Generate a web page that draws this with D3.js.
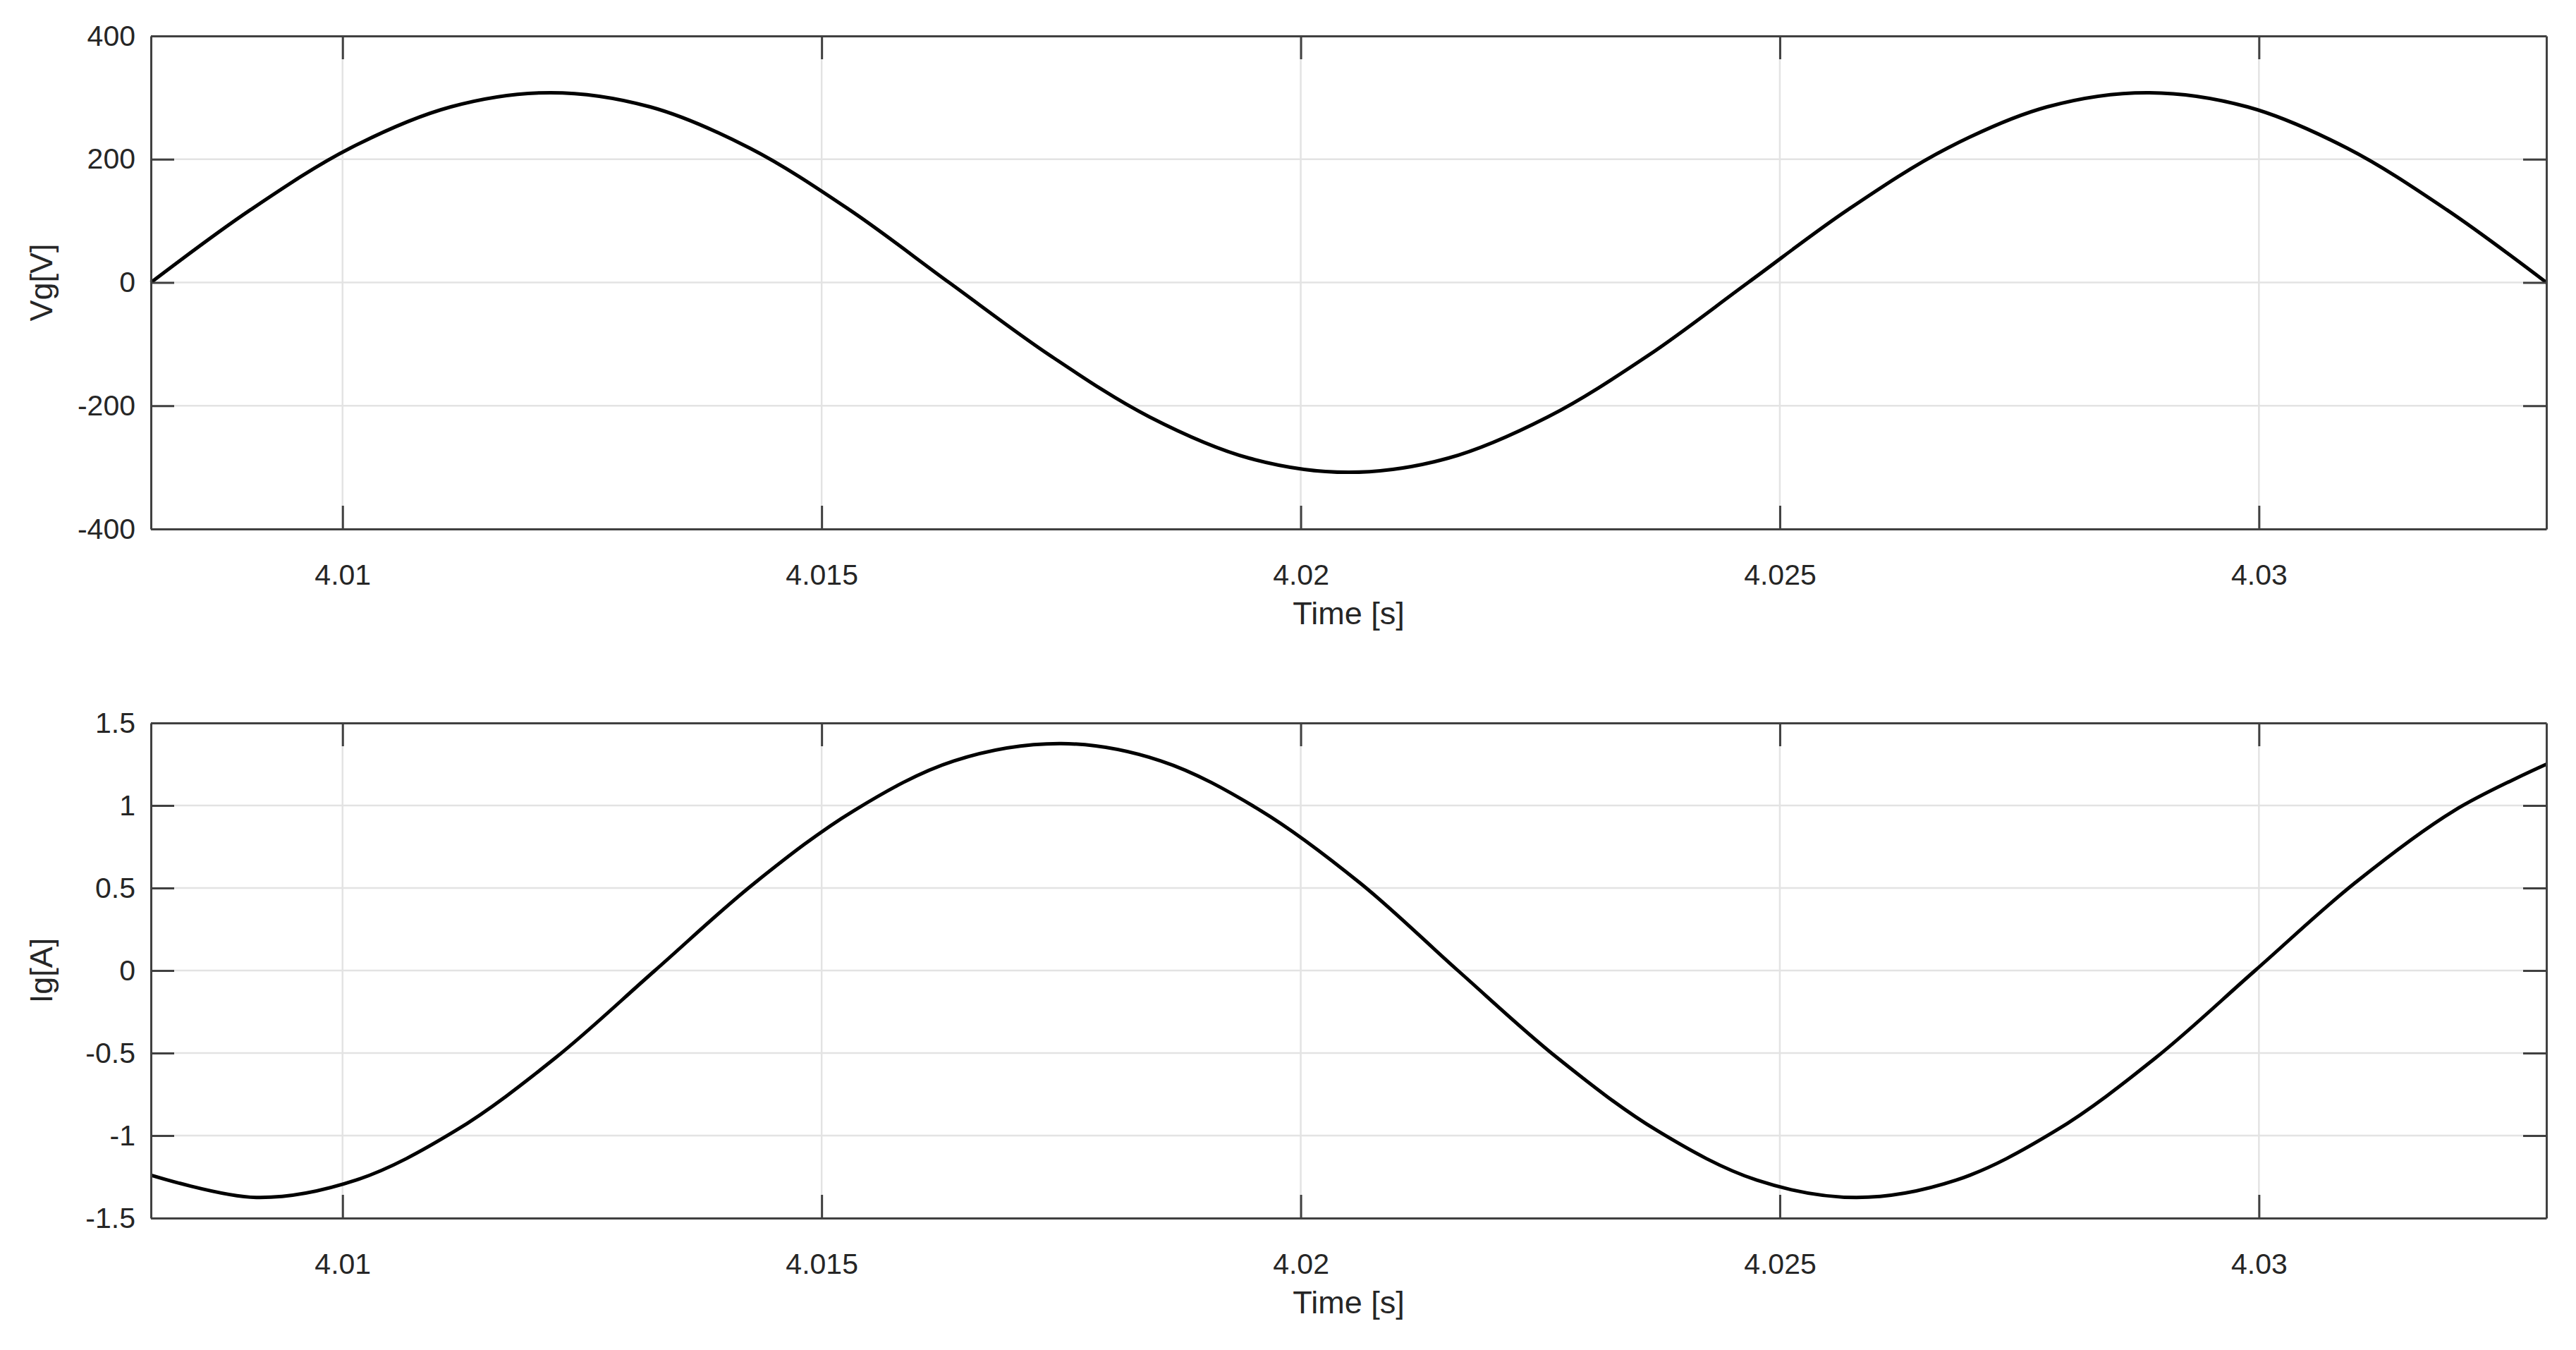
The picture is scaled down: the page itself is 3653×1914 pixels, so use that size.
<!DOCTYPE html>
<html>
<head>
<meta charset="utf-8">
<script src="https://cdnjs.cloudflare.com/ajax/libs/d3/7.8.5/d3.min.js"></script>
<style>
body { margin: 0; background: #fff; }
text { font-family: "Liberation Sans", Arial, sans-serif; fill: #262626; }
</style>
</head>
<body>
<svg id="chart" width="3653" height="1914"></svg>
<script>
// values
var vg_time = [4.008, 4.00904, 4.01008, 4.01113, 4.01217, 4.01321, 4.01425, 4.01529, 4.01633, 4.01738, 4.01842, 4.01946, 4.0205,
	4.02154, 4.02258, 4.02363, 4.02467, 4.02571, 4.02675, 4.02779, 4.02883, 4.02988, 4.03092, 4.03196, 4.033];
var vg_values = [0, 118, 218, 285, 308, 285, 218, 118, 0, -118, -218, -285, -308,
	-285, -218, -118, 0, 118, 218, 285, 308, 285, 218, 118, 0];
var ig_time = [4.008, 4.0091, 4.01014, 4.01118, 4.01222, 4.01326, 4.0143, 4.01534, 4.01638, 4.0175, 4.01854, 4.01958, 4.02062,
	4.02164, 4.02268, 4.02372, 4.02476, 4.0258, 4.02684, 4.02788, 4.02892, 4.02996, 4.031, 4.03204, 4.033];
var ig_values = [-1.24, -1.375, -1.27, -0.97, -0.53, 0, 0.53, 0.97, 1.27, 1.375, 1.27, 0.97, 0.53,
	0, -0.53, -0.97, -1.27, -1.375, -1.27, -0.97, -0.53, 0, 0.53, 0.97, 1.25];
var x_ticks = [4.01, 4.015, 4.02, 4.025, 4.03];
var vg_ticks = [-400, -200, 0, 200, 400];
var ig_ticks = [-1.5, -1, -0.5, 0, 0.5, 1, 1.5];

var svg = d3.select("#chart");
var left = 214, right = 3611;

draw_panel(51, 750, vg_time, vg_values, [-400, 400], vg_ticks, "Vg[V]");
draw_panel(1025, 1727, ig_time, ig_values, [-1.5, 1.5], ig_ticks, "Ig[A]");

function draw_panel(top, bottom, times, values, y_domain, y_ticks, y_label) {
	var x = d3.scaleLinear().domain([4.008, 4.033]).range([left, right]);
	var y = d3.scaleLinear().domain(y_domain).range([bottom, top]);
	var g = svg.append("g");

	// grid
	g.selectAll(".gx").data(x_ticks).enter().append("line")
		.attr("x1", d => x(d)).attr("x2", d => x(d))
		.attr("y1", top).attr("y2", bottom)
		.attr("stroke", "#e3e3e3").attr("stroke-width", 2.5);
	g.selectAll(".gy").data(y_ticks).enter().append("line")
		.attr("x1", left).attr("x2", right)
		.attr("y1", d => y(d)).attr("y2", d => y(d))
		.attr("stroke", "#e3e3e3").attr("stroke-width", 2.5);

	// curve
	var pts = times.map((t, i) => [t, values[i]]);
	g.append("path")
		.datum(pts)
		.attr("d", d3.line().x(d => x(d[0])).y(d => y(d[1])).curve(d3.curveCatmullRom.alpha(0.5)))
		.attr("fill", "none").attr("stroke", "#000").attr("stroke-width", 5);

	// axes with inward ticks, mirrored
	var tl = 33;
	var fmt = d => String(d);
	g.append("g").attr("transform", "translate(0," + bottom + ")")
		.call(d3.axisBottom(x).tickValues(x_ticks).tickFormat(fmt).tickSizeInner(-tl).tickSizeOuter(0).tickPadding(50));
	g.append("g").attr("transform", "translate(0," + top + ")")
		.call(d3.axisTop(x).tickValues(x_ticks).tickFormat("").tickSizeInner(-tl).tickSizeOuter(0));
	g.append("g").attr("transform", "translate(" + left + ",0)")
		.call(d3.axisLeft(y).tickValues(y_ticks).tickFormat(fmt).tickSizeInner(-tl).tickSizeOuter(0).tickPadding(22));
	g.append("g").attr("transform", "translate(" + right + ",0)")
		.call(d3.axisRight(y).tickValues(y_ticks).tickFormat("").tickSizeInner(-tl).tickSizeOuter(0));

	g.selectAll(".domain, .tick line").attr("stroke", "#404040").attr("stroke-width", 3);
	g.selectAll(".tick text").attr("font-size", 41).attr("fill", "#262626");

	g.append("text")
		.attr("x", (left + right) / 2).attr("y", bottom + 135)
		.attr("text-anchor", "middle").attr("font-size", 45)
		.text("Time [s]");
	g.append("text")
		.attr("transform", "translate(74," + (top + bottom) / 2 + ") rotate(-90)")
		.attr("text-anchor", "middle").attr("font-size", 45)
		.text(y_label);
}
</script>
</body>
</html>
